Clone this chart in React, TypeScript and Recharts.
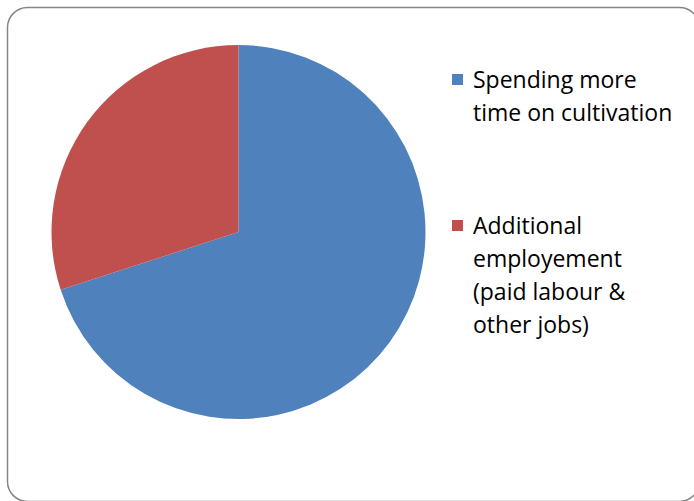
import React from "react";
import { PieChart, Pie, Cell, Legend } from "recharts";

// Slice names (legend lines kept separately so wrapping matches the original)
const categories = [
  "Spending more time on cultivation",
  "Additional employement (paid labour & other jobs)",
];
const legendLines = [
  ["Spending more", "time on cultivation"],
  ["Additional", "employement", "(paid labour &", "other jobs)"],
];
const shares = [70, 30];
const colors = ["#4F81BD", "#C0504D"];

const data = categories.map((name, i) => ({ name, value: shares[i] }));

const renderLegend = () => (
  <div style={{ fontFamily: "'Open Sans', sans-serif", fontSize: 23, color: "#000" }}>
    {legendLines.map((lines, i) => (
      <div key={i} style={{ display: "flex", alignItems: "flex-start", marginBottom: i === 0 ? 80 : 0 }}>
        <span
          style={{
            width: 11,
            height: 11,
            background: colors[i],
            marginTop: 11,
            marginRight: 10,
            flex: "none",
          }}
        />
        <div style={{ lineHeight: "33px" }}>
          {lines.map((l, j) => (
            <div key={j}>{l}</div>
          ))}
        </div>
      </div>
    ))}
  </div>
);

export default function App() {
  return (
    <div style={{ position: "absolute", left: 0, top: 0, width: 694, height: 501, overflow: "hidden", background: "#fff" }}>
      <svg width={694} height={501} style={{ position: "absolute", left: 0, top: 0 }}>
        <rect x={7.5} y={7.5} width={692} height={494} rx={20} ry={20} fill="#fff" stroke="#868686" strokeWidth={1.5} />
      </svg>
      <div style={{ position: "absolute", left: 0, top: 0 }}>
        <PieChart width={694} height={501} margin={{ top: 0, right: 0, bottom: 0, left: 0 }}>
          <Pie
            data={data}
            dataKey="value"
            nameKey="name"
            cx={238.5}
            cy={232}
            outerRadius={187}
            startAngle={90}
            endAngle={-270}
            stroke="none"
            isAnimationActive={false}
          >
            {data.map((d, i) => (
              <Cell key={d.name} fill={colors[i]} />
            ))}
          </Pie>
          <Legend
            layout="vertical"
            content={renderLegend}
            wrapperStyle={{ position: "absolute", left: 452, top: 63, width: 240 }}
          />
        </PieChart>
      </div>
    </div>
  );
}
